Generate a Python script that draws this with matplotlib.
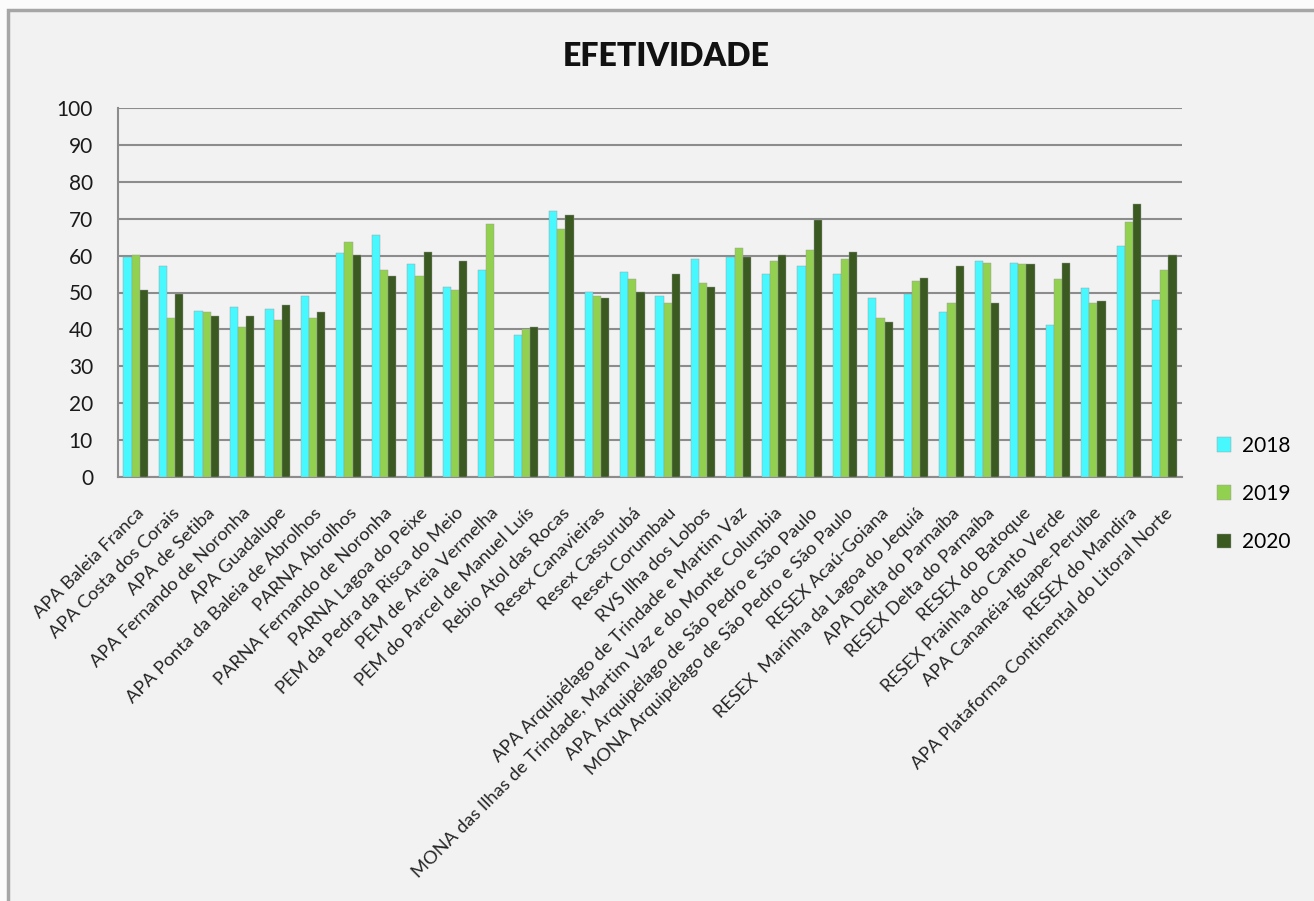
import matplotlib.pyplot as plt
import numpy as np
from matplotlib.patches import Rectangle

plt.rcParams['font.family'] = ['Lato', 'DejaVu Sans']

unidades = [
    'APA Baleia Franca',
    'APA Costa dos Corais',
    'APA de Setiba',
    'APA Fernando de Noronha',
    'APA Guadalupe',
    'APA Ponta da Baleia de Abrolhos',
    'PARNA Abrolhos',
    'PARNA Fernando de Noronha',
    'PARNA Lagoa do Peixe',
    'PEM da Pedra da Risca do Meio',
    'PEM de Areia Vermelha',
    'PEM do Parcel de Manuel Luís',
    'Rebio Atol das Rocas',
    'Resex Canavieiras',
    'Resex Cassurubá',
    'Resex Corumbau',
    'RVS Ilha dos Lobos',
    'APA Arquipélago de Trindade e Martim Vaz',
    'MONA das Ilhas de Trindade, Martim Vaz e do Monte Columbia',
    'APA Arquipélago de São Pedro e São Paulo',
    'MONA Arquipélago de São Pedro e São Paulo',
    'RESEX Acaú-Goiana',
    'RESEX  Marinha da Lagoa do Jequiá',
    'APA Delta do Parnaíba',
    'RESEX Delta do Parnaíba',
    'RESEX do Batoque',
    'RESEX Prainha do Canto Verde',
    'APA Cananéia-Iguape-Peruíbe',
    'RESEX do Mandira',
    'APA Plataforma Continental do Litoral Norte',
]

anos = ['2018', '2019', '2020']

ef_2018 = [59.6, 57.1, 45.1, 46.1, 45.6, 49.1, 60.6, 65.6, 57.6, 51.6,
           56.1, 38.6, 72.1, 50.1, 55.6, 49.1, 59.1, 59.6, 55.1, 57.1,
           55.1, 48.6, 49.6, 44.6, 58.5, 58.0, 41.1, 51.1, 62.6, 48.0]
ef_2019 = [60.1, 43.1, 44.6, 40.6, 42.6, 43.1, 63.6, 56.1, 54.6, 50.6,
           68.6, 40.0, 67.1, 49.1, 53.6, 47.1, 52.6, 62.1, 58.6, 61.6,
           59.1, 43.1, 53.0, 47.1, 58.0, 57.6, 53.6, 47.1, 69.1, 56.1]
ef_2020 = [50.6, 49.6, 43.7, 43.7, 46.6, 44.6, 60.1, 54.6, 61.1, 58.6,
           0.0, 40.6, 71.1, 48.6, 50.1, 55.1, 51.6, 59.6, 60.1, 69.6,
           61.1, 42.1, 54.0, 57.1, 47.1, 57.6, 58.0, 47.6, 74.0, 60.1]

cores = ['#48F8FF', '#92D050', '#3A5A22']

fig = plt.figure(figsize=(13.14, 9.01), dpi=100, facecolor='#fbfbfb')

# moldura cinza do gráfico, atrás de tudo
moldura = Rectangle((8 / 1314, -0.05), 1.1, 1 - 10 / 901 + 0.05,
                    transform=fig.transFigure, facecolor='#f2f2f2',
                    edgecolor='#a6a6a6', linewidth=2.5, zorder=-10)
fig.add_artist(moldura)

ax = fig.add_axes([118 / 1314, 1 - 477 / 901, (1182 - 118) / 1314, (477 - 108) / 901])
ax.set_facecolor('#f2f2f2')

x = np.arange(len(unidades))
largura = 0.23
for i, (serie, cor, ano) in enumerate(zip([ef_2018, ef_2019, ef_2020], cores, anos)):
    ax.bar(x + (i - 1) * largura, serie, largura, color=cor, label=ano,
           edgecolor='#9a9a9a', linewidth=0.3, zorder=3)

ax.set_xlim(-0.5, len(unidades) - 0.5)
ax.set_ylim(0, 100)
ax.set_yticks(range(0, 101, 10))
ax.yaxis.grid(True, color='#8c8c8c', linewidth=1.5, zorder=0)
ax.set_axisbelow(True)
ax.tick_params(axis='y', length=0, pad=18, labelsize=15, labelcolor='#1a1a1a')
ax.tick_params(axis='x', length=0, pad=20)

ax.set_xticks(x)
ax.set_xticklabels(unidades, rotation=45, ha='right', rotation_mode='anchor',
                   fontsize=13.2, color='#262626')

for lado in ['top', 'right']:
    ax.spines[lado].set_visible(False)
for lado in ['left', 'bottom']:
    ax.spines[lado].set_color('#8c8c8c')
    ax.spines[lado].set_linewidth(1.5)

fig.text(666 / 1314, 1 - 56 / 901, 'EFETIVIDADE', ha='center', va='center',
         fontsize=23, fontweight='heavy', color='#111111')

ax.legend(loc='center left', bbox_to_anchor=(1.015, -0.046), frameon=False,
          fontsize=15, handlelength=0.7, handleheight=0.7, labelspacing=1.35,
          handletextpad=0.5)

fig.savefig('out.png', dpi=100, facecolor=fig.get_facecolor())
